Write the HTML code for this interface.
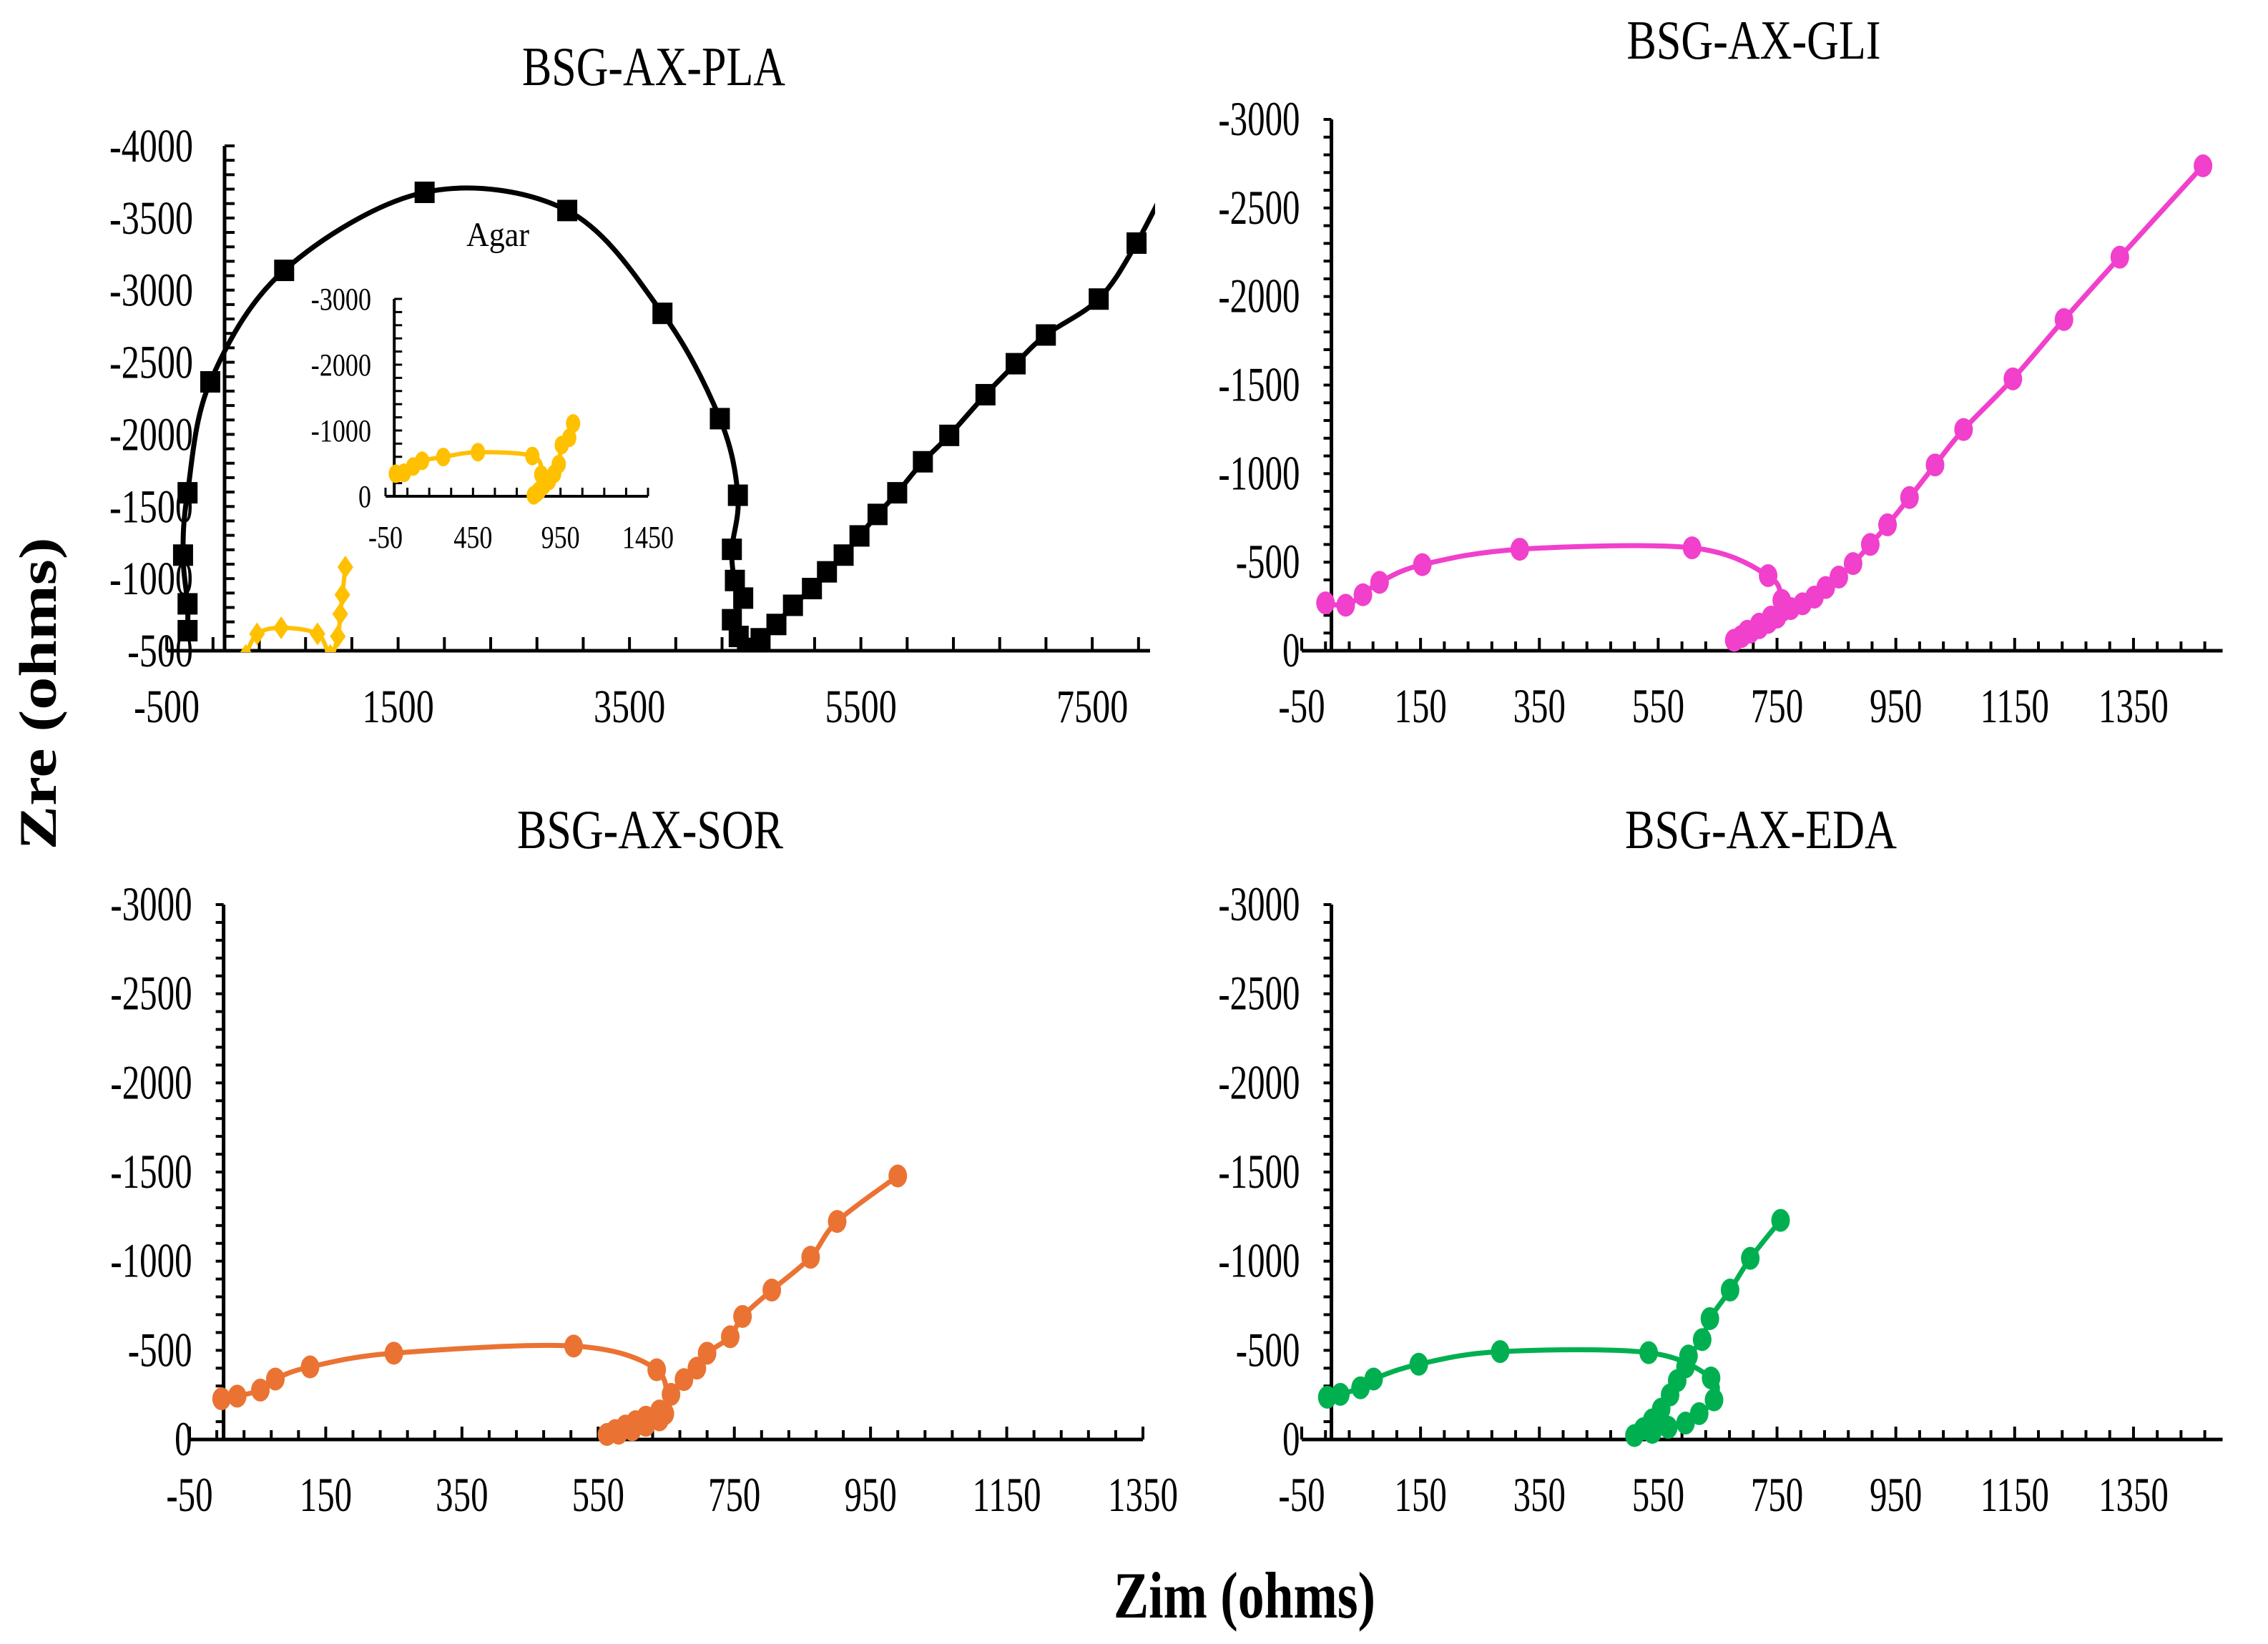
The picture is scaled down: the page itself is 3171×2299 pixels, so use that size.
<!DOCTYPE html>
<html><head><meta charset="utf-8"><title>Nyquist plots</title>
<style>
html,body{margin:0;padding:0;background:#fff;}
svg{display:block;font-family:"Liberation Serif","DejaVu Serif",serif;}
</style></head>
<body>
<svg id="chart" width="3171" height="2299" viewBox="0 0 3171 2299" xmlns="http://www.w3.org/2000/svg">
<defs>
<clipPath id="clipPla"><rect x="225" y="140" width="1390" height="772"/></clipPath>
</defs>
<rect x="0" y="0" width="3171" height="2299" fill="#fff"/>
<text x="0" y="0" transform="translate(78,970) rotate(-90)" text-anchor="middle" font-weight="bold" font-size="74" textLength="437" lengthAdjust="spacingAndGlyphs">Zre (ohms)</text>
<text x="1740" y="2262" text-anchor="middle" font-weight="bold" font-size="92" textLength="366" lengthAdjust="spacingAndGlyphs">Zim (ohms)</text>
<text x="696" y="344" text-anchor="middle" font-size="48" textLength="88" lengthAdjust="spacingAndGlyphs">Agar</text>
</svg>
<script>
// ---------- DATA ----------
const plaX = [-320,-320,-359,-320,-124,515,1729,2962,3785,4281,4437,4385,4411,4483,4385,4444,4515,4633,4770,4913,5077,5207,5351,5488,5644,5814,6036,6264,6577,6838,7099,7556,7883,8250];
const plaY = [639,825,1163,1595,2364,3137,3678,3552,2839,2109,1578,1203,987,865,715,599,516,583,682,815,931,1047,1163,1296,1445,1595,1810,1993,2275,2490,2689,2938,3326,3900];
const agarMainX = [183,281,489,803,913,979,1000,1018,1044];
const agarMainY = [467,617,659,617,467,600,755,888,1080];
const agarInsetX = [9,56,108,159,280,478,789,840,797,815,828,853,884,914,940,957,1000,1022];
const agarInsetY = [342,357,452,539,597,670,612,330,15,50,87,160,233,342,488,779,889,1107];
const gliX = [-10,24,53,81,153,317,607,735,758,760,740,720,700,678,690,705,720,735,750,773,793,813,832,854,878,907,936,973,1016,1064,1147,1233,1327,1467];
const gliY = [270,257,316,386,486,573,581,424,284,230,190,150,110,59,80,105,130,160,190,238,265,303,357,416,492,600,711,865,1049,1249,1535,1870,2222,2738];
const sorX = [-3,20,54,76,127,250,514,636,648,640,620,600,580,563,575,590,605,620,640,657,676,695,710,744,762,805,862,901,990];
const sorY = [228,243,277,339,407,484,524,391,145,110,80,55,35,28,50,75,100,125,160,253,336,400,484,576,690,838,1022,1223,1478];
const edaX = [-7,15,49,71,147,284,534,639,644,619,596,567,540,510,525,540,555,570,582,596,601,624,637,671,705,756];
const edaY = [237,253,290,339,422,493,487,345,222,145,92,68,40,22,60,110,170,250,330,407,468,560,678,838,1016,1229];

const plaXTicks = [-500,1500,3500,5500,7500];
const plaYTicks = [4000,3500,3000,2500,2000,1500,1000,500];
const insetXTicks = [-50,450,950,1450];
const insetYTicks = [3000,2000,1000,0];
const smallXTicks = [-50,150,350,550,750,950,1150,1350];
const smallYTicks = [3000,2500,2000,1500,1000,500,0];

// ---------- HELPERS ----------
const svg = document.getElementById('chart');
const NS = 'http://www.w3.org/2000/svg';
function mk(tag, parent){ const e=document.createElementNS(NS,tag); (parent||svg).appendChild(e); return e; }
function scale(d0,d1,p0,p1){ return v => p0 + (v-d0)*(p1-p0)/(d1-d0); }
function smoothPath(pts){
  if(pts.length<2) return '';
  let d='M'+pts[0][0].toFixed(1)+','+pts[0][1].toFixed(1);
  for(let i=0;i<pts.length-1;i++){
    const p0=pts[i-1]||pts[i], p1=pts[i], p2=pts[i+1], p3=pts[i+2]||p2;
    const c1x=p1[0]+(p2[0]-p0[0])/6, c1y=p1[1]+(p2[1]-p0[1])/6;
    const c2x=p2[0]-(p3[0]-p1[0])/6, c2y=p2[1]-(p3[1]-p1[1])/6;
    d+=' C'+c1x.toFixed(1)+','+c1y.toFixed(1)+' '+c2x.toFixed(1)+','+c2y.toFixed(1)+' '+p2[0].toFixed(1)+','+p2[1].toFixed(1);
  }
  return d;
}
function label(g, txt, x, y, anchor, size, factor){
  const t=mk('text',g);
  
  
  t.setAttribute('x',x); t.setAttribute('y',y);
  t.setAttribute('text-anchor',anchor); t.setAttribute('font-size',size);
  t.textContent=txt;
  const len=t.getComputedTextLength();
  if(len>0){ t.setAttribute('textLength',(len*factor).toFixed(1)); t.setAttribute('lengthAdjust','spacingAndGlyphs'); }
  return t;
}
function line(g,x1,y1,x2,y2,w){
  const l=mk('line',g);
  l.setAttribute('x1',x1);l.setAttribute('y1',y1);l.setAttribute('x2',x2);l.setAttribute('y2',y2);
  l.setAttribute('stroke','#000');l.setAttribute('stroke-width',w);
  return l;
}
function title(txt,cx,by,len,name){
  const t=mk('text');
  
  
  t.setAttribute('x',cx);t.setAttribute('y',by);t.setAttribute('text-anchor','middle');
  t.setAttribute('font-size','77');t.setAttribute('textLength',len);t.setAttribute('lengthAdjust','spacingAndGlyphs');
  t.textContent=txt;
}
function series(g, xs, ys, sx, sy, color, marker, name, clip){
  const pts=xs.map((v,i)=>[sx(v),sy(ys[i])]);
  const sg=mk('g',g);
  
  
  if(clip) sg.setAttribute('clip-path','url(#'+clip+')');
  const p=mk('path',sg);
  
  
  p.setAttribute('d',smoothPath(pts));p.setAttribute('fill','none');
  p.setAttribute('stroke',color);p.setAttribute('stroke-width',marker.lw||7);p.setAttribute('stroke-linejoin','round');
  pts.forEach(pt=>{
    let m;
    if(marker.type==='square'){ m=mk('rect',sg); m.setAttribute('x',pt[0]-14);m.setAttribute('y',pt[1]-15);m.setAttribute('width',28);m.setAttribute('height',30); }
    else if(marker.type==='diamond'){ m=mk('polygon',sg); m.setAttribute('points',[pt[0],pt[1]-16,pt[0]+11,pt[1],pt[0],pt[1]+16,pt[0]-11,pt[1]].join(' ')); }
    else { m=mk('ellipse',sg); m.setAttribute('cx',pt[0]);m.setAttribute('cy',pt[1]);m.setAttribute('rx',marker.rx);m.setAttribute('ry',marker.ry); }
    
    
    m.setAttribute('fill',color);
  });
}

// ---------- PANEL: PLA ----------
(function(){
  const g=mk('g');  
  const sx=scale(0,2000,314,637.5), sy=scale(500,4000,910,204);
  line(g,sx(-500),910,sx(8000),910,5);
  line(g,314,204,314,910,5);
  for(let v=500; v<=4000; v+=100) line(g,314,sy(v),328,sy(v),4);
  for(let v=-500; v<=8000; v+=400) line(g,sx(v),910,sx(v),891,4);
  plaYTicks.forEach(v=>label(g,'-'+v,270,sy(v)+22,'end',66,0.76));
  plaXTicks.forEach(v=>label(g,String(v),sx(v),1010,'middle',66,0.76));
  series(g,plaX,plaY,sx,sy,'#000',{type:'square'},'series-pla','clipPla');
  series(g,agarMainX,agarMainY,sx,sy,'#FFC000',{type:'diamond',lw:6},'series-agar-main','clipPla');
  // inset
  const ig=mk('g',g);  
  const ix=scale(-50,1450,539,906), iy=scale(0,3000,694,418);
  line(ig,ix(-50),694,ix(1450),694,4);
  line(ig,ix(0),418,ix(0),694,4);
  for(let v=0; v<=3000; v+=200) line(ig,ix(0),iy(v),ix(0)+11,iy(v),3);
  for(let v=-50; v<=1450; v+=125) line(ig,ix(v),694,ix(v),682,3);
  insetYTicks.forEach(v=>label(ig,v===0?'0':'-'+v,519,iy(v)+15,'end',44,0.82));
  insetXTicks.forEach(v=>label(ig,String(v),ix(v),766,'middle',44,0.82));
  series(ig,agarInsetX,agarInsetY,ix,iy,'#FFC000',{type:'circle',rx:10,ry:13,lw:6},'series-agar-inset');
})();
title('BSG-AX-PLA',914,119,368,'title-pla');

// ---------- small panels ----------
function smallPanel(name, x0, yTop, yBot, xs, ys, color, sname, xmin, xmax){
  const g=mk('g');  
  const sx=scale(xmin,xmax[0],xmax[1],xmax[2]);
  const sy=scale(0,3000,yBot,yTop);
  line(g,sx(-50),yBot,sx(xmax[3]),yBot,5);
  line(g,sx(0),yTop,sx(0),yBot,5);
  for(let v=0; v<=3000; v+=100) line(g,sx(0)-11,sy(v),sx(0),sy(v),4);
  for(let v=-50; v<=xmax[3]; v+=40) line(g,sx(v),yBot,sx(v),yBot-((v+50)%200===0?18:13),4);
  smallYTicks.forEach(v=>label(g,v===0?'0':'-'+v,sx(0)-44,sy(v)+22,'end',68,0.72));
  smallXTicks.forEach(v=>label(g,String(v),sx(v),yBot+100,'middle',68,0.72));
  series(g,xs,ys,sx,sy,color,{type:'circle',rx:13,ry:16},sname);
}
smallPanel('panel-gli',0,167,910,gliX,gliY,'#F040CC','series-gli',-50,[1450,1820,3066,1500]);
title('BSG-AX-GLI',2452,82,355,'title-gli');
smallPanel('panel-sor',0,1265,2013,sorX,sorY,'#EA7333','series-sor',-50,[1350,265,1598,1350]);
title('BSG-AX-SOR',909,1186,372,'title-sor');
smallPanel('panel-eda',0,1265,2013,edaX,edaY,'#00B050','series-eda',-50,[1450,1820,3066,1500]);
title('BSG-AX-EDA',2462,1186,380,'title-eda');
</script>
</body></html>
